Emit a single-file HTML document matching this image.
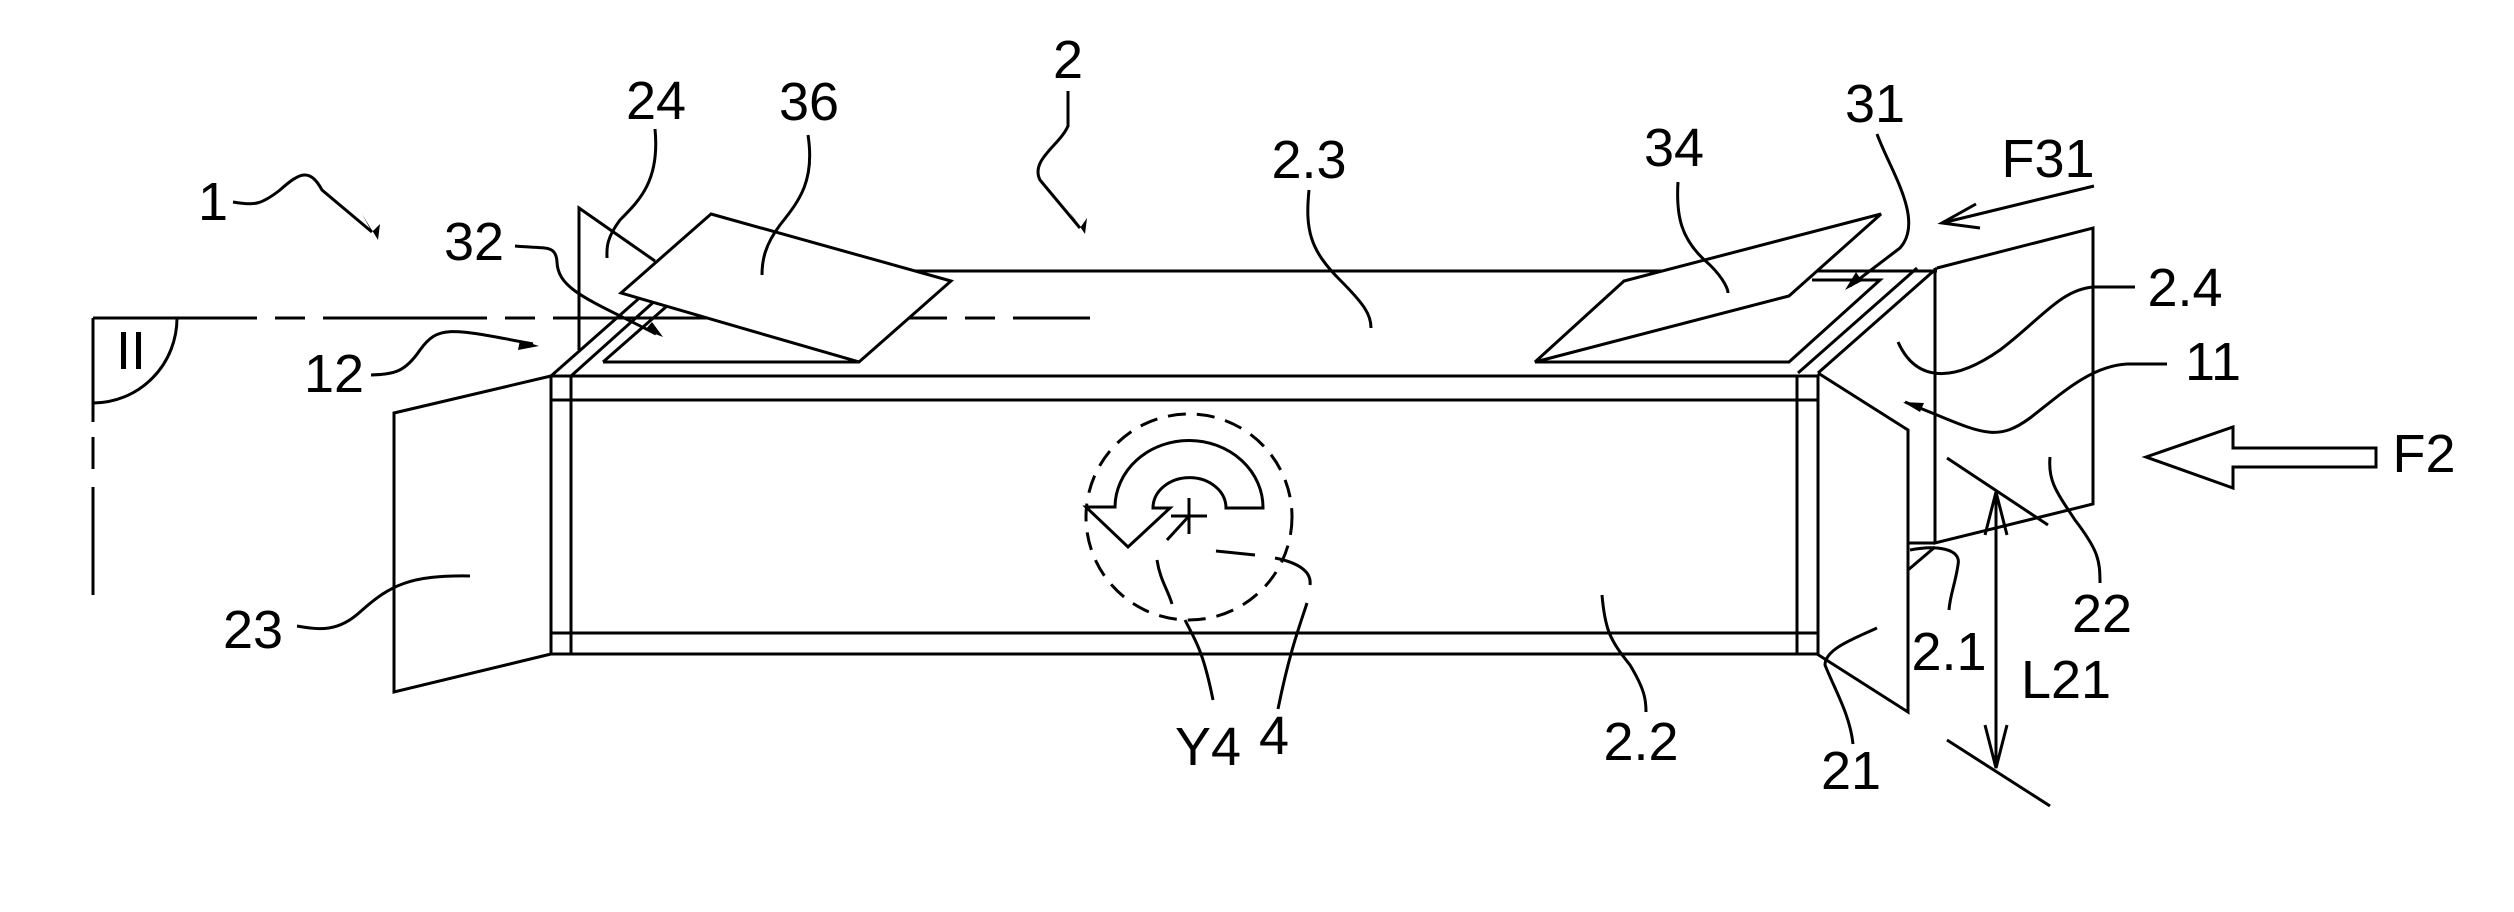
<!DOCTYPE html>
<html><head><meta charset="utf-8"><style>
html,body{margin:0;padding:0;background:#fff;}
svg{display:block}
text{font-family:"Liberation Sans Narrow","Liberation Sans",sans-serif;font-size:54px;fill:#000;text-anchor:middle}
</style></head><body>
<svg width="2514" height="912" viewBox="0 0 2514 912" xmlns="http://www.w3.org/2000/svg">
<g fill="none" stroke="#000" stroke-width="3" stroke-linejoin="miter">
<!-- dashed II -->
<path d="M93 318 H1090" stroke-dasharray="164 18 30 18"/>
<path d="M93 318 V595" stroke-dasharray="104 15 32 18 200"/>
<path d="M177 318 A84 85 0 0 1 93 403"/>
<!-- flap 24 -->
<path d="M579 350 V208 L655 261"/>
<!-- top face -->
<path d="M670 271 H1937"/>
<path d="M551 376 L670 271"/>
<path d="M571 376 L686 273"/>
<path d="M603 362 L667 306 M603 362 H859"/>
<path d="M1798 373 L1917 268 M1818 373 L1937 268"/>
<path d="M1535 362 H1789 L1880 280 H1812"/>
<!-- card 36 -->
<path d="M711 214 L951 281 L859 362 L621 293 Z" fill="#fff"/>
<!-- card 34 -->
<path d="M1535 362 L1624 281 L1881 214 L1789 296 Z" fill="#fff"/>
<!-- front face -->
<rect x="551" y="376" width="1267" height="278"/>
<path d="M551 400 H1818 M551 633 H1818 M571 376 V654 M1797 376 V654"/>
<!-- flap 23 -->
<path d="M551 376 L394 413 V692 L551 654"/>
<!-- flap 21 -->
<path d="M1818 373 L1908 430 V712 L1817 654"/>
<!-- panel 22 -->
<path d="M1937 268 L2093 228 V504 L1935 543 V268"/>
<path d="M1908 543 H1935 M1908 570 L1935 547"/>
<!-- circle 4 -->
<circle cx="1189" cy="517" r="103" stroke-dasharray="18 11"/>
<path d="M1263 508 H1226 A36 30 0 0 0 1153 508 H1170 L1128 547 L1086 507 H1115 A74 67 0 0 1 1263 508 Z"/>
<path d="M1171 516 H1207 M1189 498 V534 M1189 516 L1167 540"/>
<!-- leaders -->
<path d="M233 202 C255 206 262 204 280 190 C300 172 310 168 322 190 L372 232"/>
<path d="M1068 91 V126 C1060 145 1030 160 1040 180 L1080 228"/>
<path d="M655 129 C660 180 640 200 620 220 C605 240 607 250 607 258"/>
<path d="M808 135 C815 180 800 200 780 225 C765 245 762 260 762 275"/>
<path d="M515 246 C545 249 556 244 557 262 C558 290 590 300 656 334"/>
<path d="M371 375 C395 374 405 372 420 350 C438 325 450 328 533 344"/>
<path d="M297 626 C320 630 338 632 360 612 C390 585 410 575 470 576"/>
<path d="M1157 560 C1160 580 1168 590 1172 604 M1185 620 C1195 640 1203 650 1213 700"/>
<path d="M1216 551 L1255 555 M1275 558 C1295 562 1312 570 1310 585 M1307 603 C1300 625 1290 650 1278 709"/>
<path d="M1309 190 C1305 230 1310 250 1340 280 C1365 305 1371 315 1371 328"/>
<path d="M1678 182 C1676 215 1680 240 1710 265 C1725 280 1728 290 1728 293"/>
<path d="M1877 134 C1890 170 1925 220 1900 248 L1850 286"/>
<path d="M2094 186 L1942 223 M1976 204 L1942 223 L1980 228"/>
<path d="M2135 287 H2093 C2060 290 2040 320 2000 350 C1950 385 1915 380 1898 342"/>
<path d="M2167 364 H2127 C2090 366 2060 395 2030 418 C2000 440 1985 435 1937 415 L1905 402"/>
<path d="M2146 457 L2233 427 V448 H2376 V467 H2233 V488 Z"/>
<path d="M2050 457 C2048 480 2055 490 2075 520 C2098 550 2100 560 2100 583"/>
<path d="M1947 458 L2048 525 M1947 740 L2050 806"/>
<path d="M1996 492 V768 M1985 535 L1996 492 L2007 535 M1985 725 L1996 768 L2007 725"/>
<path d="M1910 550 C1935 545 1962 548 1958 565 C1955 585 1950 595 1949 610"/>
<path d="M1877 628 C1850 640 1825 650 1825 665 C1835 690 1850 715 1853 744"/>
<path d="M1602 595 C1605 630 1610 640 1630 665 C1645 690 1646 700 1646 712"/>
</g>
<g fill="#000">
<path d="M372 232 L362 214 L378 240 L380 224 Z"/>
<path d="M1080 228 L1070 212 L1085 234 L1087 218 Z"/>
<path d="M663 337 L645 330 L652 322 Z"/>
<path d="M539 346 L518 350 L520 340 Z"/>
<path d="M1845 290 L1856 272 L1862 281 Z"/>
<path d="M1903 402 L1924 403 L1920 412 Z"/>
</g>
<text x="1068" y="78">2</text>
<text x="656" y="119">24</text>
<text x="809" y="120">36</text>
<text x="213" y="220">1</text>
<text x="474" y="260">32</text>
<text x="131" y="369">II</text>
<text x="334" y="392">12</text>
<text x="253" y="648">23</text>
<text x="1208" y="765">Y4</text>
<text x="1309" y="178">2.3</text>
<text x="1674" y="166">34</text>
<text x="1875" y="122">31</text>
<text x="2048" y="177">F31</text>
<text x="2185" y="306">2.4</text>
<text x="2213" y="380">11</text>
<text x="2424" y="472">F2</text>
<text x="2102" y="632">22</text>
<text x="1949" y="670">2.1</text>
<text x="2066" y="698">L21</text>
<text x="1274" y="754">4</text>
<text x="1641" y="760">2.2</text>
<text x="1851" y="789">21</text>
</svg>
</body></html>
